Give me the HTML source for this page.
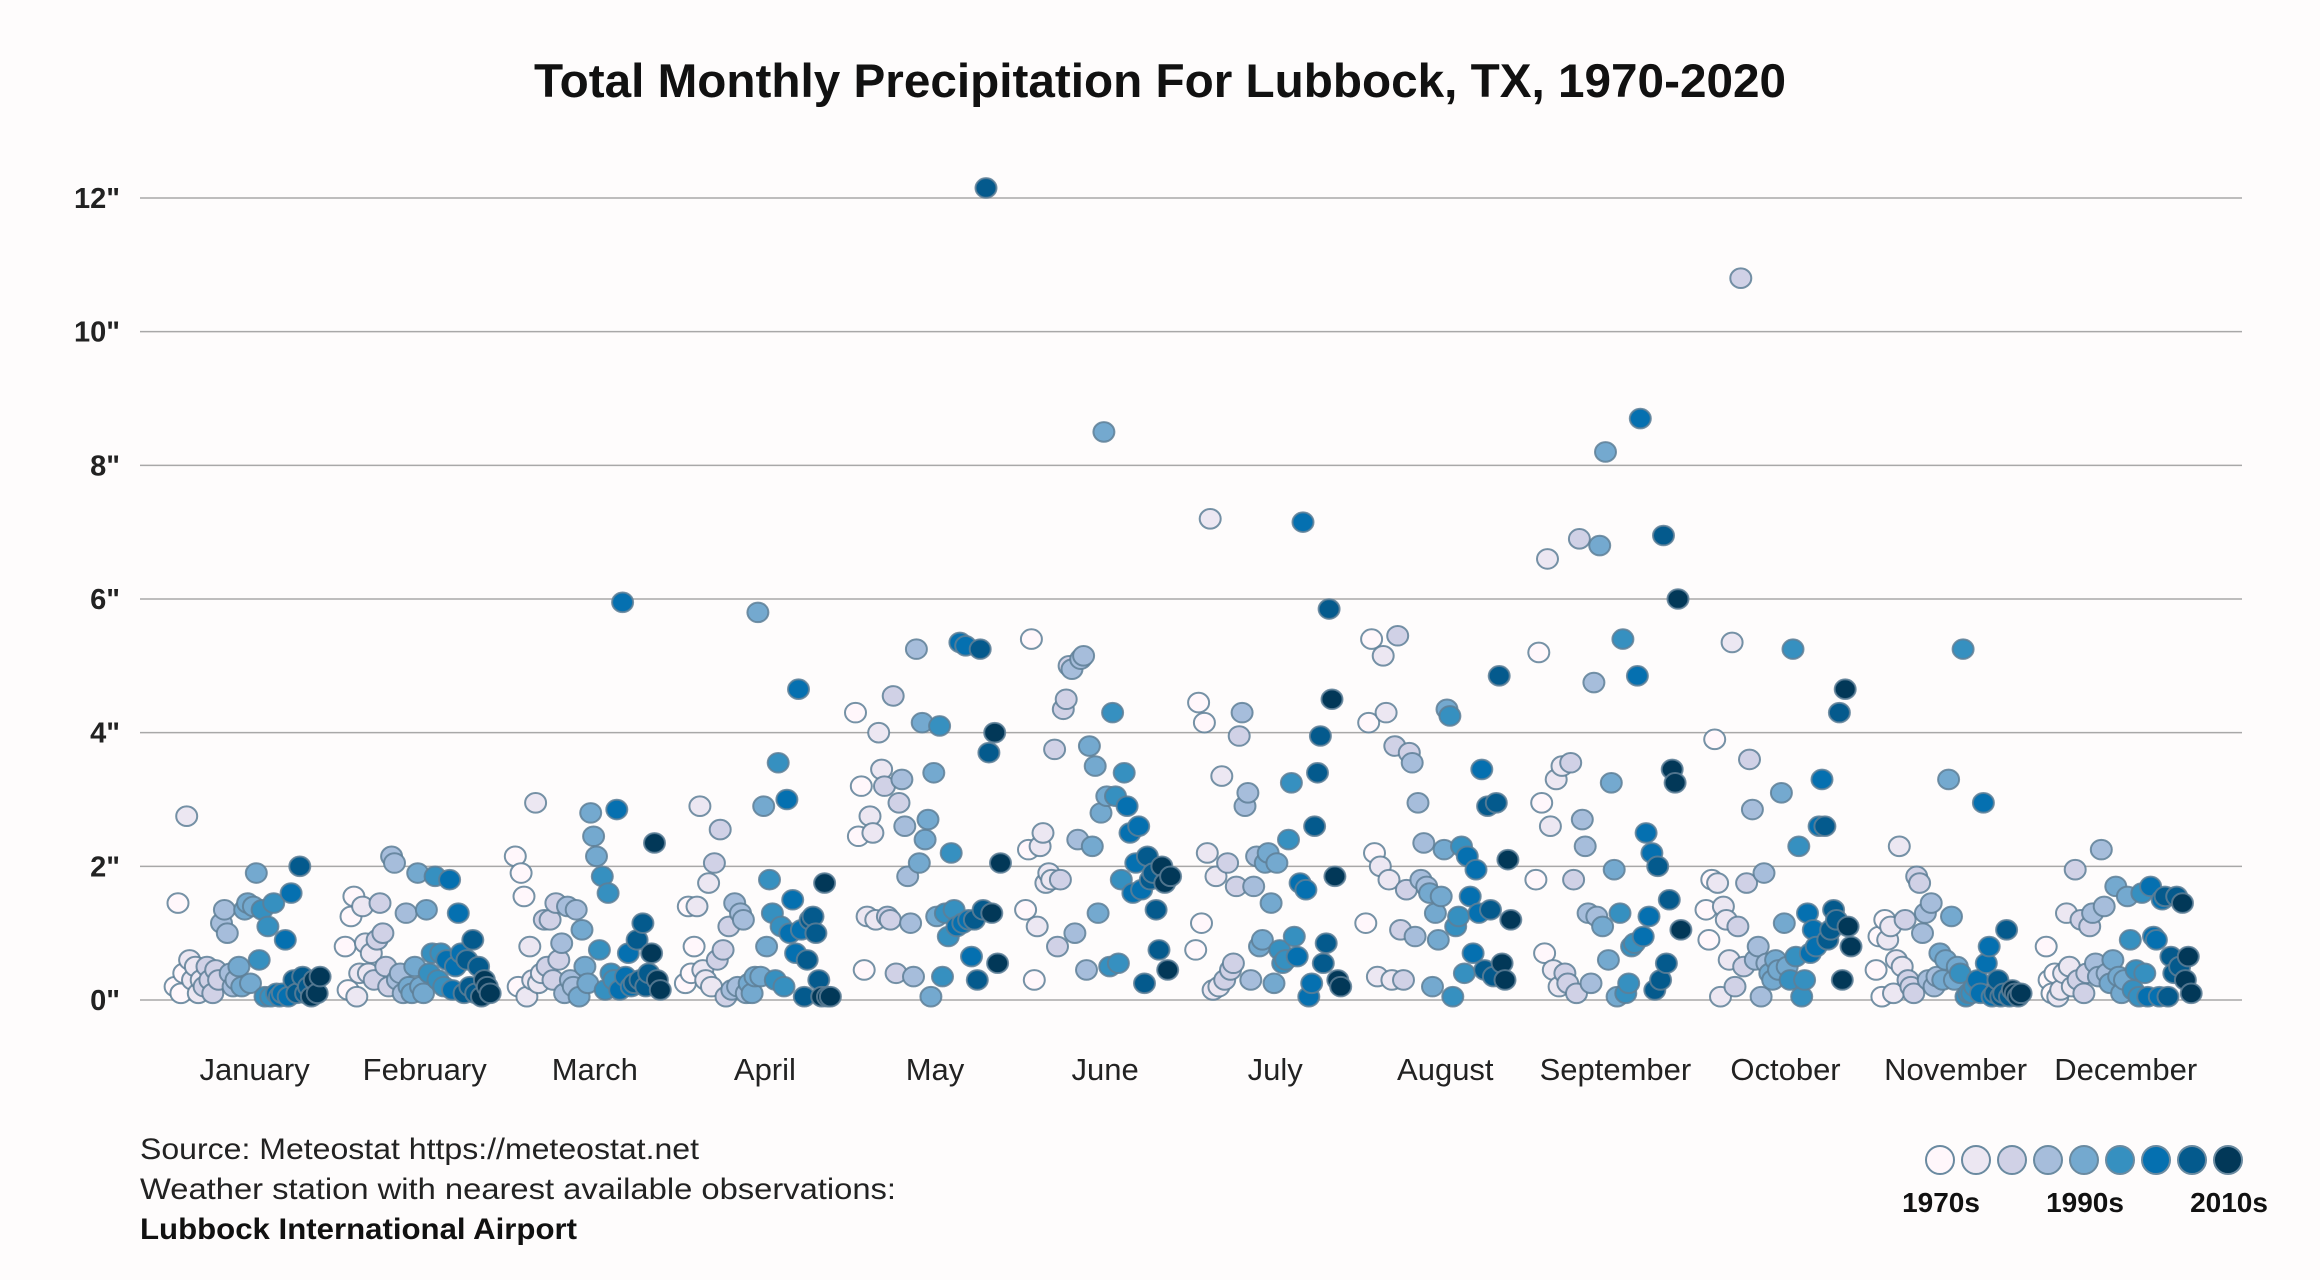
<!DOCTYPE html>
<html><head><meta charset="utf-8"><style>
html,body{margin:0;padding:0;background:#fefcfc;}
svg{display:block;font-family:"Liberation Sans",sans-serif;}
</style></head><body>
<svg id="chart" width="2320" height="1280" viewBox="0 0 2320 1280">
<rect width="2320" height="1280" fill="#fefcfc"/>
<text x="1160" y="97" text-anchor="middle" font-size="47" font-weight="bold" fill="#111" textLength="1252" lengthAdjust="spacingAndGlyphs">Total Monthly Precipitation For Lubbock, TX, 1970-2020</text>
<g id="grid"></g>
<g id="xlabels"></g>
<g id="dots"></g>
<text x="140" y="1159" font-size="30" fill="#222" textLength="559" lengthAdjust="spacingAndGlyphs">Source: Meteostat https://meteostat.net</text>
<text x="140" y="1199" font-size="30" fill="#222" textLength="756" lengthAdjust="spacingAndGlyphs">Weather station with nearest available observations:</text>
<text x="140" y="1239" font-size="30" font-weight="bold" fill="#111" textLength="437" lengthAdjust="spacingAndGlyphs">Lubbock International Airport</text>
<g id="legend"></g>
</svg>
<script>
const months=["January","February","March","April","May","June","July","August","September","October","November","December"];
const yTicks=[0,2,4,6,8,10,12];
const yTickLabels=['0"','2"','4"','6"','8"','10"','12"'];
const jan=[0.2,1.45,0.1,0.4,2.75,0.6,0.3,0.5,0.1,0.3,0.2,0.5,0.3,0.1,0.45,0.3,1.15,1.35,1.0,0.4,0.2,0.3,0.5,0.2,1.35,1.45,0.25,1.4,1.9,0.6,1.35,0.05,1.1,0.05,1.45,0.1,0.05,0.1,0.9,0.05,1.6,0.3,0.1,2.0,0.35,0.1,0.2,0.05,0.3,0.1,0.35];
const feb=[0.8,0.15,1.25,1.55,0.05,0.4,1.4,0.85,0.4,0.7,0.3,0.9,1.45,1.0,0.5,0.2,2.15,2.05,0.3,0.4,0.1,1.3,0.2,0.1,0.5,1.9,0.2,0.1,1.35,0.4,0.7,1.85,0.3,0.7,0.2,0.6,1.8,0.15,0.5,1.3,0.7,0.1,0.6,0.2,0.9,0.1,0.5,0.05,0.3,0.2,0.1];
const mar=[2.15,0.2,1.9,1.55,0.05,0.8,0.3,2.95,0.25,0.4,1.2,0.5,1.2,0.3,1.45,0.6,0.85,0.1,1.4,0.3,0.2,1.35,0.05,1.05,0.5,0.25,2.8,2.45,2.15,0.75,1.85,0.15,1.6,0.4,0.3,2.85,0.15,5.95,0.35,0.7,0.2,0.25,0.9,0.3,1.15,0.2,0.4,0.7,2.35,0.3,0.15];
const apr=[0.25,1.4,0.4,0.8,1.4,2.9,0.45,0.3,1.75,0.2,2.05,0.6,2.55,0.75,0.05,1.1,0.15,1.45,0.2,1.3,1.2,0.1,0.25,0.1,0.35,5.8,0.35,2.9,0.8,1.8,1.3,0.3,3.55,1.1,0.2,3.0,1.0,1.5,0.7,4.65,1.05,0.05,0.6,1.2,1.25,1.0,0.3,0.05,1.75,0.05,0.05];
const may=[4.3,2.45,3.2,0.45,1.25,2.75,2.5,1.2,4.0,3.45,3.2,1.25,1.2,4.55,0.4,2.95,3.3,2.6,1.85,1.15,0.35,5.25,2.05,4.15,2.4,2.7,0.05,3.4,1.25,4.1,0.35,1.3,0.95,2.2,1.35,1.1,5.35,1.15,5.3,1.2,0.65,1.2,0.3,5.25,1.35,12.15,3.7,1.3,4.0,0.55,2.05];
const jun=[1.35,2.25,5.4,0.3,1.1,2.3,2.5,1.75,1.9,1.8,3.75,0.8,1.8,4.35,4.5,5.0,4.95,1.0,2.4,5.1,5.15,0.45,3.8,2.3,3.5,1.3,2.8,8.5,3.05,0.5,4.3,3.05,0.55,1.8,3.4,2.9,2.5,1.6,2.05,2.6,1.65,0.25,2.15,1.8,1.9,1.35,0.75,2.0,1.75,0.45,1.85];
const jul=[0.75,4.45,1.15,4.15,2.2,7.2,0.15,1.85,0.2,3.35,0.3,2.05,0.45,0.55,1.7,3.95,4.3,2.9,3.1,0.3,1.7,2.15,0.8,0.9,2.05,2.2,1.45,0.25,2.05,0.75,0.55,0.6,2.4,3.25,0.95,0.65,1.75,7.15,1.65,0.05,0.25,2.6,3.4,3.95,0.55,0.85,5.85,4.5,1.85,0.3,0.2];
const aug=[1.15,4.15,5.4,2.2,0.35,2.0,5.15,4.3,1.8,0.3,3.8,5.45,1.05,0.3,1.65,3.7,3.55,0.95,2.95,1.8,2.35,1.7,1.6,0.2,1.3,0.9,1.55,2.25,4.35,4.25,0.05,1.1,1.25,2.3,0.4,2.15,1.55,0.7,1.95,1.3,3.45,0.45,2.9,1.35,0.35,2.95,4.85,0.55,0.3,2.1,1.2];
const sep=[1.8,5.2,2.95,0.7,6.6,2.6,0.45,3.3,0.2,3.5,0.4,0.25,3.55,1.8,0.1,6.9,2.7,2.3,1.3,0.25,4.75,1.25,6.8,1.1,8.2,0.6,3.25,1.95,0.05,1.3,5.4,0.1,0.25,0.8,0.85,4.85,8.7,0.95,2.5,1.25,2.2,0.15,2.0,0.3,6.95,0.55,1.5,3.45,3.25,6.0,1.05];
const oct=[1.35,0.9,1.8,3.9,1.75,0.05,1.4,1.2,0.6,5.35,0.2,1.1,10.8,0.5,1.75,3.6,2.85,0.6,0.8,0.05,1.9,0.55,0.4,0.3,0.6,0.45,3.1,1.15,0.5,0.3,5.25,0.65,2.3,0.05,0.3,1.3,0.7,1.05,0.8,2.6,3.3,2.6,0.9,1.05,1.35,1.2,4.3,0.3,4.65,1.1,0.8];
const nov=[0.45,0.95,0.05,1.2,0.9,1.1,0.1,0.6,2.3,0.5,1.2,0.3,0.2,0.1,1.85,1.75,1.0,1.3,0.3,1.45,0.2,0.35,0.7,0.3,0.6,3.3,1.25,0.3,0.5,0.4,5.25,0.05,0.1,0.1,0.2,0.3,0.1,2.95,0.55,0.8,0.05,0.1,0.3,0.05,0.1,1.05,0.05,0.15,0.1,0.05,0.1];
const dec=[0.8,0.3,0.1,0.4,0.05,0.15,0.4,1.3,0.5,0.2,1.95,0.3,1.2,0.1,0.4,1.1,1.3,0.55,0.35,2.25,1.4,0.4,0.25,0.6,1.7,0.35,0.1,0.3,1.55,0.9,0.15,0.45,0.05,1.6,0.4,0.05,1.7,0.95,0.9,0.05,1.5,1.55,0.05,0.65,0.4,1.55,0.5,1.45,0.3,0.65,0.1];
const series=[jan,feb,mar,apr,may,jun,jul,aug,sep,oct,nov,dec];
const startYear=1970;
const palette=["#fff7fb","#ece7f2","#d0d1e6","#a6bddb","#74a9cf","#3690c0","#0570b0","#045a8d","#023858"];
const legendLabels=["1970s","1990s","2010s"];

const NS="http://www.w3.org/2000/svg";
const y0=1000, pxPerInch=(1000-198)/12;
function yScale(v){return y0-v*pxPerInch;}
function xScale(m,i){return 254.6+m*170.1+(i-25)*2.9-7;}
function mk(tag,attrs,parent){const e=document.createElementNS(NS,tag);for(const k in attrs)e.setAttribute(k,attrs[k]);parent.appendChild(e);return e;}

const grid=document.getElementById('grid');
yTicks.forEach((t,k)=>{
  const l=mk('line',{x1:140,x2:2242,y1:yScale(t),y2:yScale(t),stroke:'#a8a8a8','stroke-width':1.5},grid);
  
  
  const tx=mk('text',{x:120,y:yScale(t)+10,'text-anchor':'end','font-size':29,'font-weight':'bold',fill:'#222'},grid);
  tx.textContent=yTickLabels[k];
  
  
});
const xl=document.getElementById('xlabels');
months.forEach((m,k)=>{
  const t=mk('text',{x:254.6+k*170.1,y:1080,'text-anchor':'middle','font-size':31,fill:'#222'},xl);
  t.textContent=m;
  
  
});
const dots=document.getElementById('dots');
series.forEach((arr,m)=>{
  arr.forEach((v,i)=>{
    const year=startYear+i;
    const ci=Math.round((year-1970)/50*8);
    const c=mk('ellipse',{cx:xScale(m,i),cy:yScale(v),rx:10.5,ry:9.8,fill:palette[ci],stroke:'#5e7f96','stroke-width':2,'stroke-opacity':0.85},dots);
    
    
  });
});
const lg=document.getElementById('legend');
palette.forEach((c,k)=>{
  const e=mk('circle',{cx:1940+k*36,cy:1160,r:14,fill:c,stroke:'#6a8aa0','stroke-width':2},lg);
  
  
});
legendLabels.forEach((s,k)=>{
  const t=mk('text',{x:1941+k*144,y:1212,'text-anchor':'middle','font-size':28,'font-weight':'bold',fill:'#111'},lg);
  t.textContent=s;
  
  
});
</script>
</body></html>
